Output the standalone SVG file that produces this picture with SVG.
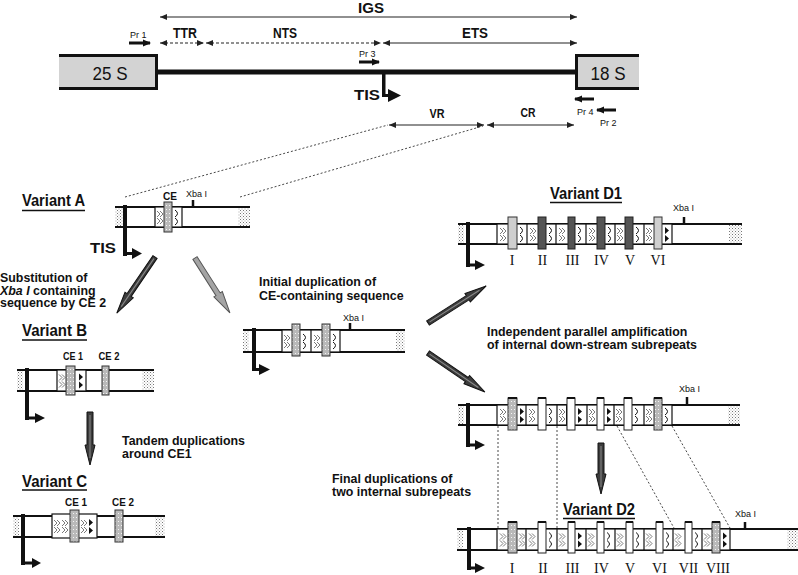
<svg xmlns="http://www.w3.org/2000/svg" width="798" height="575" viewBox="0 0 798 575">
<style>
text{font-family:"Liberation Sans",Arial,sans-serif;fill:#111}
.b{font-weight:bold}
.sm{font-size:9px}
.var{font-size:17px;font-weight:bold}
.lab{font-size:12.4px;font-weight:bold}
.ce{font-size:11px;font-weight:bold}
.rn{font-family:"Liberation Serif","Times New Roman",serif;font-size:14px;text-anchor:middle}
.ln{stroke:#111;stroke-width:2;fill:none}
.ul{stroke:#111;stroke-width:1.5}
.box{fill:#fff;stroke:#111;stroke-width:1.2}
.dv{stroke:#111;stroke-width:1.2}
.cg{fill:url(#grain);stroke:#333;stroke-width:1}
.cd{fill:#555;stroke:#222;stroke-width:1}
.cw{fill:#fff;stroke:#222;stroke-width:1}
.dot{fill:url(#dots)}
.dim{stroke:#222;stroke-width:1.2;fill:none}
.dsh{stroke-dasharray:3,2}
.thin{stroke:#333;stroke-width:0.9;stroke-dasharray:2,2;fill:none}
.dk{fill:#3c3c3c;stroke:#111;stroke-width:1}
.gy{fill:#a4a4a4;stroke:#555;stroke-width:1}
.hl{stroke:#8a8a8a;stroke-width:1;fill:none}
.tis{fill:#111}
</style>
<defs>
<pattern id="dots" width="3" height="3" patternUnits="userSpaceOnUse"><rect width="3" height="3" fill="#fff"/><rect width="1" height="1" fill="#777"/><rect x="1.5" y="1.5" width="1" height="1" fill="#aaa"/></pattern>
<pattern id="grain" width="3" height="4" patternUnits="userSpaceOnUse"><rect width="3" height="4" fill="#b9b9b9"/><rect x="1" y="1" width="1" height="1" fill="#f4f4f4"/></pattern>
<path id="ch" d="M2,4 L5,7 L2,10 M5,4 L8,7 L5,10 M2,11 L5,14 L2,17 M5,11 L8,14 L5,17" fill="none" stroke="#7a7a7a" stroke-width="1"/>
<path id="ar" d="M3,3 Q8,6.5 3,10 M3,11 Q8,14.5 3,18" fill="none" stroke="#111" stroke-width="1"/>
<path id="tr" d="M3,3 L7,6.5 L3,10 Z M3,11 L7,14.5 L3,18 Z" fill="#111"/>
<marker id="mh" markerUnits="userSpaceOnUse" markerWidth="8" markerHeight="7" refX="7" refY="3.5" orient="auto-start-reverse"><path d="M0,0.5 L7,3.5 L0,6.5 Z" fill="#222"/></marker>
<marker id="mp" markerUnits="userSpaceOnUse" markerWidth="8" markerHeight="8" refX="7" refY="4" orient="auto"><path d="M0,0.5 L8,4 L0,7.5 Z" fill="#111"/></marker>
</defs>
<rect width="798" height="575" fill="#fff"/>

<!-- top rDNA map -->
<g id="map">
<rect x="59" y="54" width="99" height="36" fill="#d3d3d3"/>
<path d="M59,55.5 H156.5 V88.5 H59" fill="none" stroke="#111" stroke-width="3"/>
<text x="110" y="80" font-size="18" text-anchor="middle" textLength="35" lengthAdjust="spacingAndGlyphs">25 S</text>
<line x1="157" y1="72" x2="577" y2="72" stroke="#111" stroke-width="5"/>
<rect x="576" y="54" width="63" height="36" fill="#d3d3d3"/>
<path d="M639,55.5 H576.5 V88.5 H639" fill="none" stroke="#111" stroke-width="3"/>
<text x="608" y="80" font-size="18" text-anchor="middle" textLength="35" lengthAdjust="spacingAndGlyphs">18 S</text>
</g>
<g id="igs">
<line class="dim" x1="160" y1="17" x2="577" y2="17" marker-start="url(#mh)" marker-end="url(#mh)"/>
<text class="b" x="371" y="13" font-size="15" text-anchor="middle" textLength="26" lengthAdjust="spacingAndGlyphs">IGS</text>
</g>
<g id="ttr">
<line class="dim dsh" x1="160" y1="43" x2="204" y2="43" marker-start="url(#mh)" marker-end="url(#mh)"/>
<text class="b" x="185" y="38" font-size="14" text-anchor="middle" textLength="24" lengthAdjust="spacingAndGlyphs">TTR</text>
</g>
<g id="nts">
<line class="dim dsh" x1="206" y1="43" x2="381" y2="43" marker-start="url(#mh)" marker-end="url(#mh)"/>
<text class="b" x="285" y="38" font-size="14" text-anchor="middle" textLength="24" lengthAdjust="spacingAndGlyphs">NTS</text>
</g>
<g id="ets">
<line class="dim" x1="383" y1="43" x2="577" y2="43" marker-start="url(#mh)" marker-end="url(#mh)"/>
<text class="b" x="475" y="38" font-size="14" text-anchor="middle" textLength="26" lengthAdjust="spacingAndGlyphs">ETS</text>
</g>
<g id="pr1">
<text class="sm" x="130" y="38">Pr 1</text>
<line x1="129" y1="43" x2="150" y2="43" stroke="#111" stroke-width="3" marker-end="url(#mp)"/>
</g>
<g id="pr3">
<text class="sm" x="359" y="57">Pr 3</text>
<line x1="359" y1="62" x2="379" y2="62" stroke="#111" stroke-width="3" marker-end="url(#mp)"/>
</g>
<g id="pr4">
<line x1="594" y1="99" x2="575" y2="99" stroke="#111" stroke-width="3" marker-end="url(#mp)"/>
<text class="sm" x="577" y="115">Pr 4</text>
</g>
<g id="pr2">
<line x1="616" y1="110" x2="597" y2="110" stroke="#111" stroke-width="3" marker-end="url(#mp)"/>
<text class="sm" x="600" y="126">Pr 2</text>
</g>
<g id="tis-top">
<rect class="tis" x="382" y="74" width="3.5" height="23"/>
<line x1="383" y1="95.5" x2="390" y2="95.5" stroke="#111" stroke-width="3"/>
<path class="tis" d="M388,89 L388,102 L401,95.5 Z"/>
<text class="b" x="354" y="100" font-size="14" textLength="26" lengthAdjust="spacingAndGlyphs">TIS</text>
</g>
<g id="vr">
<line class="dim" x1="389" y1="125" x2="484" y2="125" marker-start="url(#mh)" marker-end="url(#mh)"/>
<text class="b" x="437" y="118" font-size="12" text-anchor="middle" textLength="15" lengthAdjust="spacingAndGlyphs">VR</text>
</g>
<g id="cr">
<line class="dim" x1="487" y1="125" x2="574" y2="125" marker-start="url(#mh)" marker-end="url(#mh)"/>
<text class="b" x="528" y="117" font-size="12" text-anchor="middle" textLength="15" lengthAdjust="spacingAndGlyphs">CR</text>
</g>

<!-- connectors -->
<g id="connectors">
<line class="thin" x1="125" y1="197" x2="388" y2="125"/>
<line class="thin" x1="240" y1="197" x2="483" y2="126"/>
<line class="thin" x1="498" y1="426" x2="498" y2="528"/>
<line class="thin" x1="557" y1="426" x2="557" y2="528"/>
<line class="thin" x1="617" y1="426" x2="674" y2="528"/>
<line class="thin" x1="672" y1="426" x2="730" y2="528"/>
<g transform="translate(155,257) rotate(124.2)"><path class="dk" d="M0,-2.5 L46,-2.5 L46,-5 L68,0 L46,5 L46,2.5 L0,2.5 Z"/><path class="hl" d="M2,0 L60,0"/></g>
<g transform="translate(195,258) rotate(57.5)"><path class="gy" d="M0,-2.5 L43,-2.5 L43,-5 L65,0 L43,5 L43,2.5 L0,2.5 Z"/></g>
<g transform="translate(90,412) rotate(90)"><path class="dk" d="M0,-3 L33,-3 L33,-5 L53,0 L33,5 L33,3 L0,3 Z"/><path class="hl" d="M3,0 L46,0"/></g>
<g transform="translate(428,323) rotate(-32.5)"><path class="dk" d="M0,-2.5 L47,-2.5 L47,-5 L69,0 L47,5 L47,2.5 L0,2.5 Z"/><path class="hl" d="M2,0 L61,0"/></g>
<g transform="translate(428,353) rotate(34.4)"><path class="dk" d="M0,-2.5 L47,-2.5 L47,-5 L69,0 L47,5 L47,2.5 L0,2.5 Z"/><path class="hl" d="M2,0 L61,0"/></g>
<g transform="translate(601,443) rotate(90)"><path class="dk" d="M0,-3 L31,-3 L31,-5 L51,0 L31,5 L31,3 L0,3 Z"/><path class="hl" d="M3,0 L44,0"/></g>
</g>

<!-- captions -->
<g id="cap-sub">
<text class="lab" x="0" y="282">Substitution of</text>
<text class="lab" x="0" y="294.5"><tspan font-style="italic">Xba I</tspan> containing</text>
<text class="lab" x="0" y="307">sequence by CE 2</text>
</g>
<g id="cap-init">
<text class="lab" x="259" y="286">Initial duplication of</text>
<text class="lab" x="259" y="300">CE-containing sequence</text>
</g>
<g id="cap-tandem">
<text class="lab" x="122" y="445">Tandem duplications</text>
<text class="lab" x="122" y="458">around CE1</text>
</g>
<g id="cap-indep">
<text class="lab" x="487" y="336">Independent parallel amplification</text>
<text class="lab" x="487" y="349">of internal down-stream subrepeats</text>
</g>
<g id="cap-final">
<text class="lab" x="332" y="483">Final duplications of</text>
<text class="lab" x="332" y="496">two internal subrepeats</text>
</g>

<!-- Variant A -->
<g id="variantA">
<text class="var" x="22" y="206" textLength="63" lengthAdjust="spacingAndGlyphs">Variant A</text>
<line class="ul" x1="22" y1="210.5" x2="85" y2="210.5"/>
<rect class="dot" x="115" y="208" width="8" height="18"/>
<rect class="dot" x="238" y="208" width="12" height="18"/>
<line class="ln" x1="115" y1="207" x2="250" y2="207"/>
<line class="ln" x1="115" y1="227" x2="250" y2="227"/>
<rect class="box" x="155" y="207" width="27" height="20"/>
<use href="#ch" x="155" y="207"/>
<use href="#ar" x="172" y="207"/>
<rect class="cg" x="164" y="202" width="8" height="30"/>
<text class="ce" x="170" y="200" text-anchor="middle" textLength="14" lengthAdjust="spacingAndGlyphs">CE</text>
<line x1="193" y1="200" x2="193" y2="207" stroke="#111" stroke-width="2.5"/>
<text class="sm" x="186" y="197">Xba I</text>
<rect class="tis" x="123" y="205" width="4" height="51"/>
<line x1="124" y1="253.5" x2="133" y2="253.5" stroke="#111" stroke-width="3"/>
<path class="tis" d="M132,248 L132,259 L142,253.5 Z"/>
<text class="b" x="90" y="253" font-size="14" textLength="26" lengthAdjust="spacingAndGlyphs">TIS</text>
</g>

<!-- Variant B -->
<g id="variantB">
<text class="var" x="22" y="336" textLength="65" lengthAdjust="spacingAndGlyphs">Variant B</text>
<line class="ul" x1="22" y1="340" x2="87" y2="340"/>
<rect class="dot" x="17" y="371" width="6" height="19"/>
<rect class="dot" x="142" y="371" width="12" height="19"/>
<line class="ln" x1="17" y1="370" x2="154" y2="370"/>
<line class="ln" x1="17" y1="391" x2="154" y2="391"/>
<rect class="box" x="57" y="370" width="29" height="21"/>
<use href="#ch" x="57" y="370.5"/>
<use href="#tr" x="76" y="370.5"/>
<rect class="cg" x="66" y="366" width="9" height="29"/>
<rect class="cg" x="102" y="366" width="7" height="29"/>
<text class="ce" x="73" y="360" text-anchor="middle" textLength="20" lengthAdjust="spacingAndGlyphs">CE 1</text>
<text class="ce" x="109" y="360" text-anchor="middle" textLength="21" lengthAdjust="spacingAndGlyphs">CE 2</text>
<rect class="tis" x="25" y="368" width="4" height="52"/>
<line x1="26" y1="418" x2="36" y2="418" stroke="#111" stroke-width="3"/>
<path class="tis" d="M35,413 L35,423 L45,418 Z"/>
</g>

<!-- Variant C -->
<g id="variantC">
<text class="var" x="22" y="487" textLength="65" lengthAdjust="spacingAndGlyphs">Variant C</text>
<line class="ul" x1="22" y1="490" x2="87" y2="490"/>
<rect class="dot" x="13" y="517" width="6" height="19"/>
<rect class="dot" x="155" y="517" width="10" height="19"/>
<line class="ln" x1="13" y1="516" x2="165" y2="516"/>
<line class="ln" x1="13" y1="537" x2="165" y2="537"/>
<rect class="box" x="52" y="514" width="45" height="24"/>
<use href="#ch" x="52" y="516"/>
<use href="#ch" x="60" y="516"/>
<use href="#ch" x="79" y="516"/>
<use href="#tr" x="86" y="516"/>
<rect class="cg" x="70" y="510" width="9" height="32"/>
<rect class="cg" x="115" y="510" width="8" height="32"/>
<text class="ce" x="76" y="506" text-anchor="middle" textLength="22" lengthAdjust="spacingAndGlyphs">CE 1</text>
<text class="ce" x="123" y="506" text-anchor="middle" textLength="22" lengthAdjust="spacingAndGlyphs">CE 2</text>
<rect class="tis" x="21" y="514" width="4" height="51"/>
<line x1="22" y1="563" x2="33" y2="563" stroke="#111" stroke-width="3"/>
<path class="tis" d="M32,558 L32,568 L41,563 Z"/>
</g>

<!-- intermediate -->
<g id="intermediate">
<rect class="dot" x="243" y="331" width="6" height="20"/>
<rect class="dot" x="396" y="331" width="9" height="20"/>
<line class="ln" x1="243" y1="330" x2="405" y2="330"/>
<line class="ln" x1="243" y1="352" x2="405" y2="352"/>
<rect class="box" x="282" y="330" width="58" height="22"/>
<line class="dv" x1="311" y1="330" x2="311" y2="352"/>
<use href="#ch" x="282" y="331"/>
<use href="#ar" x="300" y="331"/>
<use href="#ch" x="312" y="331"/>
<use href="#ar" x="330" y="331"/>
<rect class="cg" x="292" y="324" width="8" height="32"/>
<rect class="cg" x="322" y="324" width="8" height="32"/>
<line x1="350" y1="323" x2="350" y2="330" stroke="#111" stroke-width="2.5"/>
<text class="sm" x="343" y="321">Xba I</text>
<rect class="tis" x="252" y="328" width="4" height="43"/>
<line x1="253" y1="369.5" x2="260" y2="369.5" stroke="#111" stroke-width="3"/>
<path class="tis" d="M259,364 L259,375 L270,369.5 Z"/>
</g>

<!-- Variant D1 -->
<g id="variantD1">
<text class="var" x="550" y="199" textLength="72" lengthAdjust="spacingAndGlyphs">Variant D1</text>
<line class="ul" x1="550" y1="202.5" x2="622" y2="202.5"/>
<rect class="dot" x="458" y="225" width="6" height="18"/>
<rect class="dot" x="729" y="225" width="13" height="18"/>
<line class="ln" x1="458" y1="224" x2="742" y2="224"/>
<line class="ln" x1="458" y1="244" x2="742" y2="244"/>
<rect class="box" x="497" y="224" width="175" height="20"/>
<line class="dv" x1="527" y1="224" x2="527" y2="244"/>
<line class="dv" x1="556" y1="224" x2="556" y2="244"/>
<line class="dv" x1="586" y1="224" x2="586" y2="244"/>
<line class="dv" x1="615" y1="224" x2="615" y2="244"/>
<line class="dv" x1="644" y1="224" x2="644" y2="244"/>
<use href="#ch" x="498" y="224"/><use href="#ar" x="517" y="224"/>
<use href="#ch" x="528" y="224"/><use href="#ar" x="546" y="224"/>
<use href="#ch" x="557" y="224"/><use href="#ar" x="575" y="224"/>
<use href="#ch" x="587" y="224"/><use href="#ar" x="605" y="224"/>
<use href="#ch" x="615" y="224"/><use href="#ar" x="633" y="224"/>
<use href="#ch" x="644" y="224"/><use href="#tr" x="662" y="224"/>
<rect class="cg" x="508" y="217" width="9" height="32" style="fill:#cfcfcf"/>
<rect class="cd" x="538" y="217" width="8" height="32"/>
<rect class="cd" x="568" y="217" width="7" height="32"/>
<rect class="cd" x="597" y="217" width="8" height="32"/>
<rect class="cd" x="625" y="217" width="8" height="32"/>
<rect class="cg" x="654" y="217" width="8" height="32" style="fill:#cfcfcf"/>
<text class="rn" x="512" y="265">I</text>
<text class="rn" x="542.5" y="265">II</text>
<text class="rn" x="572.5" y="265">III</text>
<text class="rn" x="601.5" y="265">IV</text>
<text class="rn" x="630" y="265">V</text>
<text class="rn" x="658" y="265">VI</text>
<line x1="684" y1="217" x2="684" y2="224" stroke="#111" stroke-width="2.5"/>
<text class="sm" x="673" y="211">Xba I</text>
<rect class="tis" x="466" y="222" width="4" height="45"/>
<line x1="467" y1="265" x2="476" y2="265" stroke="#111" stroke-width="3"/>
<path class="tis" d="M475,260 L475,270 L485,265 Z"/>
</g>

<!-- Variant D (unlabelled) -->
<g id="variantD">
<rect class="dot" x="458" y="406" width="6" height="18"/>
<rect class="dot" x="728" y="406" width="12" height="18"/>
<line class="ln" x1="458" y1="405" x2="740" y2="405"/>
<line class="ln" x1="458" y1="425" x2="740" y2="425"/>
<rect class="box" x="497" y="405" width="175" height="20"/>
<line class="dv" x1="526" y1="405" x2="526" y2="425"/>
<line class="dv" x1="557" y1="405" x2="557" y2="425"/>
<line class="dv" x1="567" y1="405" x2="567" y2="425" style="stroke-width:2"/>
<line class="dv" x1="587" y1="405" x2="587" y2="425"/>
<line class="dv" x1="614" y1="405" x2="614" y2="425"/>
<line class="dv" x1="644" y1="405" x2="644" y2="425"/>
<use href="#ch" x="498" y="405"/><use href="#tr" x="517" y="405"/>
<use href="#ch" x="527" y="405"/><use href="#ar" x="546" y="405"/>
<use href="#ch" x="557" y="405"/><use href="#tr" x="575" y="405"/>
<use href="#ch" x="587" y="405"/><use href="#tr" x="604" y="405"/>
<use href="#ch" x="614" y="405"/><use href="#ar" x="632" y="405"/>
<use href="#ch" x="644" y="405"/><use href="#ar" x="662" y="405"/>
<rect class="cg" x="508" y="398" width="9" height="32"/>
<rect class="cw" x="538" y="398" width="8" height="32"/>
<rect class="cw" x="567" y="398" width="8" height="32"/>
<rect class="cw" x="597" y="398" width="7" height="32"/>
<rect class="cw" x="624" y="398" width="8" height="32"/>
<rect class="cg" x="654" y="398" width="8" height="32"/>
<path d="M508,398 H517 M538,398 H546 M567,398 H575 M597,398 H604 M624,398 H632 M654,398 H662" stroke="#111" stroke-width="2"/>
<line x1="687" y1="397" x2="687" y2="405" stroke="#111" stroke-width="2.5"/>
<text class="sm" x="679" y="392">Xba I</text>
<rect class="tis" x="466" y="403" width="4" height="44"/>
<line x1="467" y1="445" x2="476" y2="445" stroke="#111" stroke-width="3"/>
<path class="tis" d="M475,440 L475,450 L485,445 Z"/>
</g>

<!-- Variant D2 -->
<g id="variantD2">
<text class="var" x="563" y="515" textLength="72" lengthAdjust="spacingAndGlyphs">Variant D2</text>
<line class="ul" x1="563" y1="518.5" x2="635" y2="518.5"/>
<rect class="dot" x="457" y="530" width="6" height="19"/>
<rect class="dot" x="787" y="530" width="11" height="19"/>
<line class="ln" x1="457" y1="529" x2="798" y2="529"/>
<line class="ln" x1="457" y1="550" x2="798" y2="550"/>
<rect class="box" x="497" y="529" width="233" height="21"/>
<line class="dv" x1="526" y1="529" x2="526" y2="550"/>
<line class="dv" x1="557" y1="529" x2="557" y2="550"/>
<line class="dv" x1="586" y1="529" x2="586" y2="550"/>
<line class="dv" x1="615" y1="529" x2="615" y2="550"/>
<line class="dv" x1="644" y1="529" x2="644" y2="550"/>
<line class="dv" x1="673" y1="529" x2="673" y2="550"/>
<line class="dv" x1="702" y1="529" x2="702" y2="550"/>
<use href="#ch" x="498" y="529.5"/><use href="#ch" x="517" y="529.5"/>
<use href="#ch" x="527" y="529.5"/><use href="#ar" x="546" y="529.5"/>
<use href="#ch" x="557" y="529.5"/><use href="#tr" x="575" y="529.5"/>
<use href="#ch" x="586" y="529.5"/><use href="#ar" x="604" y="529.5"/>
<use href="#ch" x="615" y="529.5"/><use href="#ar" x="633" y="529.5"/>
<use href="#ch" x="644" y="529.5"/><use href="#ar" x="663" y="529.5"/>
<use href="#ch" x="673" y="529.5"/><use href="#ar" x="692" y="529.5"/>
<use href="#ch" x="702" y="529.5"/><use href="#tr" x="720" y="529.5"/>
<rect class="cg" x="508" y="522" width="9" height="31"/>
<rect class="cw" x="538" y="522" width="8" height="31"/>
<rect class="cw" x="568" y="522" width="7" height="31"/>
<rect class="cw" x="597" y="522" width="7" height="31"/>
<rect class="cw" x="626" y="522" width="7" height="31"/>
<rect class="cw" x="656" y="522" width="7" height="31"/>
<rect class="cw" x="685" y="522" width="7" height="31"/>
<rect class="cg" x="712" y="522" width="8" height="31"/>
<path d="M508,522 H517 M538,522 H546 M568,522 H575 M597,522 H604 M626,522 H633 M656,522 H663 M685,522 H692 M712,522 H720" stroke="#111" stroke-width="2"/>
<text class="rn" x="512" y="573">I</text>
<text class="rn" x="543" y="573">II</text>
<text class="rn" x="572.5" y="573">III</text>
<text class="rn" x="601.5" y="573">IV</text>
<text class="rn" x="630" y="573">V</text>
<text class="rn" x="659.5" y="573">VI</text>
<text class="rn" x="688.5" y="573">VII</text>
<text class="rn" x="718" y="573">VIII</text>
<line x1="745" y1="522" x2="745" y2="529" stroke="#111" stroke-width="2.5"/>
<text class="sm" x="735" y="517">Xba I</text>
<rect class="tis" x="467" y="527" width="4" height="43"/>
<line x1="468" y1="568" x2="476" y2="568" stroke="#111" stroke-width="3"/>
<path class="tis" d="M475,563 L475,573 L485,568 Z"/>
</g>
</svg>
